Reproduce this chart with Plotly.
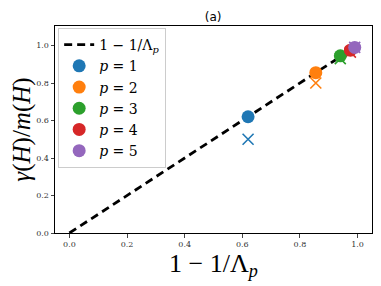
import plotly.graph_objects as go

# data
p_labels = ["p = 1", "p = 2", "p = 3", "p = 4", "p = 5"]
colors = ["#1f77b4", "#ff7f0e", "#2ca02c", "#d62728", "#9467bd"]
x_vals = [0.62, 0.855, 0.94, 0.975, 0.99]
circle_y = [0.62, 0.855, 0.945, 0.975, 0.99]
cross_y = [0.50, 0.80, 0.93, 0.965, 0.99]
line_x = [0.0, 0.62, 0.855, 0.94, 0.975, 0.995]
x_title = "1 − 1/Λ<sub><i>p</i></sub>"
y_title = "<i>γ</i>(<i>H</i>)/<i>m</i>(<i>H</i>)"

serif = "DejaVu Serif"
tserif = "Liberation Serif"
fig = go.Figure()
fig.add_trace(go.Scatter(
    x=line_x, y=line_x, mode="lines",
    line=dict(color="black", width=2.8, dash="8px,5px"),
    name=x_title))
for i in range(len(x_vals)):
    fig.add_trace(go.Scatter(
        x=[x_vals[i]], y=[cross_y[i]], mode="markers",
        marker=dict(symbol="x-thin-open", size=11, color=colors[i],
                    line=dict(width=1.6, color=colors[i])),
        showlegend=False))
for i in range(len(x_vals)):
    fig.add_trace(go.Scatter(
        x=[x_vals[i]], y=[circle_y[i]], mode="markers",
        marker=dict(symbol="circle", size=13, color=colors[i]),
        name="<i>p</i> = %d" % (i + 1)))

# page body has an 8px margin: shrink the figure so the plot lands where the reference has it
fig.update_layout(
    width=373, height=278,
    margin=dict(l=47, r=9, t=18, b=53),
    paper_bgcolor="white", plot_bgcolor="white",
    title=dict(text="(a)", x=0.55, xanchor="center", y=0.97, yanchor="middle",
               font=dict(family="DejaVu Sans", size=12, color="black")),
    showlegend=True,
    legend=dict(x=0.01, y=0.99, xanchor="left", yanchor="top",
                bgcolor="rgba(255,255,255,0.8)", bordercolor="#cccccc", borderwidth=1,
                font=dict(family=serif, size=14, color="black"),
                tracegroupgap=0, itemwidth=30),
    xaxis=dict(range=[-0.05, 1.05], tickvals=[0, 0.2, 0.4, 0.6, 0.8, 1.0],
               tickformat=".1f", ticks="outside", ticklen=3.5, tickwidth=0.8,
               showline=True, linecolor="black", linewidth=1, mirror=True,
               showgrid=False, zeroline=False, automargin=False,
               tickfont=dict(family=serif, size=8, color="#333")),
    yaxis=dict(range=[0, 1.104], tickvals=[0, 0.2, 0.4, 0.6, 0.8, 1.0],
               tickformat=".1f", ticks="outside", ticklen=3.5, tickwidth=0.8,
               showline=True, linecolor="black", linewidth=1, mirror=True,
               showgrid=False, zeroline=False, automargin=False,
               tickfont=dict(family=serif, size=8, color="#333"),
               title=dict(text=y_title, standoff=2,
                          font=dict(family=tserif, size=25, color="black"))),
    annotations=[dict(text=x_title, xref="paper", yref="paper", x=0.5, y=-0.155,
                      xanchor="center", yanchor="middle", showarrow=False,
                      font=dict(family=tserif, size=26, color="black"))],
)
fig.write_html("out.html")
